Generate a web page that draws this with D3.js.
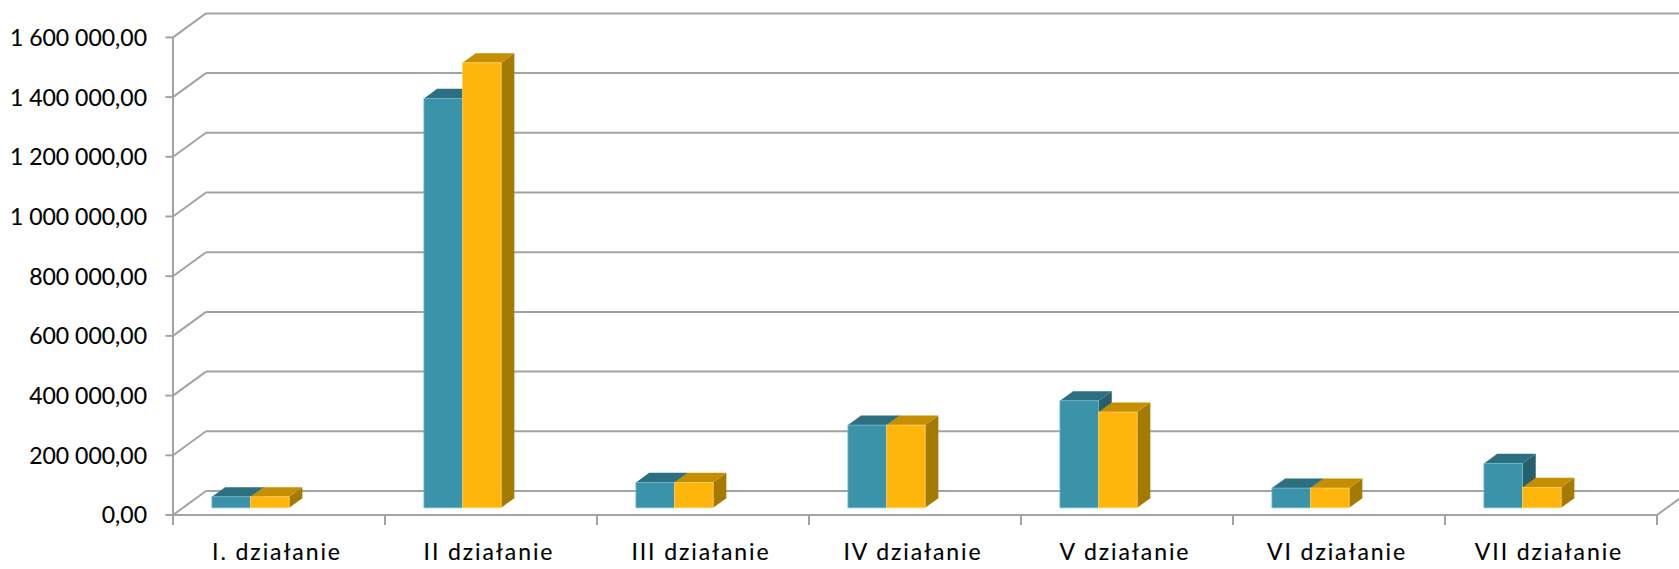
<!DOCTYPE html>
<html><head><meta charset="utf-8">
<script src="https://cdn.jsdelivr.net/npm/d3@7"></script>
<style>
html,body{margin:0;padding:0;background:#fff;}
svg{display:block;}
text{font-family:Lato,"Open Sans",sans-serif;fill:#000;stroke:#000;stroke-width:0.12px;}
</style></head>
<body>
<svg id="chart" width="1679" height="569"></svg>
<script>
const categories = ["I. działanie","II działanie","III działanie","IV działanie","V działanie","VI działanie","VII działanie"];
const seriesNames = ["Seria 1","Seria 2"];
const series1 = [37000, 1371500, 85000, 277000, 358500, 66000, 148700];
const series2 = [37000, 1490800, 85000, 277000, 320600, 66000, 68300];
const tickValues = [0, 200000, 400000, 600000, 800000, 1000000, 1200000, 1400000, 1600000];

const W = 1679, H = 569;
const svg = d3.select("#chart");
const plX0 = 173, plX1 = 1657, baseY = 515, topY = 37.4;
const depthX = 33, depthY = -24;        // floor depth offset
const barT0 = 0.30, barT1 = 0.70;       // bar depth range (fraction of floor depth)

const x = d3.scaleBand().domain(categories).range([plX0, plX1]).paddingInner(0).paddingOuter(0);
const inner = d3.scaleBand().domain(seriesNames).range([x.bandwidth()*0.137, x.bandwidth()*0.137 + 77.2]).padding(0);
const y = d3.scaleLinear().domain([0, 1600000]).range([baseY, topY]);

const locale = d3.formatLocale({decimal: ",", thousands: " ", grouping: [3], currency: ["", " zł"]});
const fmt = locale.format(",.2f");

const gridColor = "#a3a3a3";
const g = svg.append("g");

// back wall gridlines + left wall diagonals
tickValues.forEach(v => {
  const yy = y(v);
  g.append("line").attr("x1", plX0 + depthX).attr("x2", W + 20)
    .attr("y1", yy + depthY).attr("y2", yy + depthY)
    .attr("stroke", gridColor).attr("stroke-width", 2);
  g.append("line").attr("x1", plX0).attr("x2", plX0 + depthX)
    .attr("y1", yy).attr("y2", yy + depthY)
    .attr("stroke", gridColor).attr("stroke-width", 2);
});
// floor front and right edge
g.append("line").attr("x1", plX0).attr("x2", plX1).attr("y1", baseY).attr("y2", baseY)
  .attr("stroke", gridColor).attr("stroke-width", 2);
g.append("line").attr("x1", plX1).attr("x2", plX1 + depthX).attr("y1", baseY).attr("y2", baseY + depthY)
  .attr("stroke", gridColor).attr("stroke-width", 2);
// vertical axis line
g.append("line").attr("x1", plX0).attr("x2", plX0).attr("y1", y(1600000)).attr("y2", baseY)
  .attr("stroke", gridColor).attr("stroke-width", 2);
// y ticks
tickValues.forEach(v => {
  g.append("line").attr("x1", plX0 - 7.5).attr("x2", plX0).attr("y1", y(v)).attr("y2", y(v))
    .attr("stroke", gridColor).attr("stroke-width", 2);
  g.append("text").attr("x", 147).attr("y", y(v) + 8.4).attr("text-anchor", "end")
    .attr("font-size", 23).text(fmt(v));
});
// x ticks
const bounds = categories.map(c => x(c)).concat([plX1]);
bounds.forEach(bx => {
  g.append("line").attr("x1", bx).attr("x2", bx).attr("y1", baseY).attr("y2", baseY + 10)
    .attr("stroke", gridColor).attr("stroke-width", 2);
});
categories.forEach(c => {
  g.append("text").attr("x", x(c) + x.bandwidth()/2 - 2).attr("y", 560).attr("text-anchor", "middle")
    .attr("font-size", 23).attr("letter-spacing", "1.9px").text(c);
});

// bars
const colors = {
  "Seria 1": {front: "#3a93a8", top: "#2c6f80", side: "#265f6e", edge: "#6fb8c8"},
  "Seria 2": {front: "#feb60b", top: "#c68f02", side: "#a57a02", edge: "#ffd066"}
};
const fx = depthX * barT0, fy = depthY * barT0;
const bdx = depthX * (barT1 - barT0), bdy = depthY * (barT1 - barT0);
const bars = g.append("g");
categories.forEach((c, i) => {
  [[seriesNames[0], series1[i]], [seriesNames[1], series2[i]]].forEach(([s, v]) => {
    const col = colors[s];
    const x0 = x(c) + inner(s) + fx, x1 = x0 + inner.bandwidth();
    const yt = y(v) + fy, yb = y(0) + fy;
    bars.append("path").attr("d", `M${x1},${yt}L${x1+bdx},${yt+bdy}L${x1+bdx},${yb+bdy}L${x1},${yb}Z`)
      .attr("fill", col.side);
    bars.append("path").attr("d", `M${x0},${yt}L${x0+bdx},${yt+bdy}L${x1+bdx},${yt+bdy}L${x1},${yt}Z`)
      .attr("fill", col.top);
    bars.append("rect").attr("x", x0).attr("y", yt).attr("width", x1 - x0).attr("height", yb - yt)
      .attr("fill", col.front).attr("stroke", col.edge).attr("stroke-width", 0.8);
  });
});
</script>
</body></html>
